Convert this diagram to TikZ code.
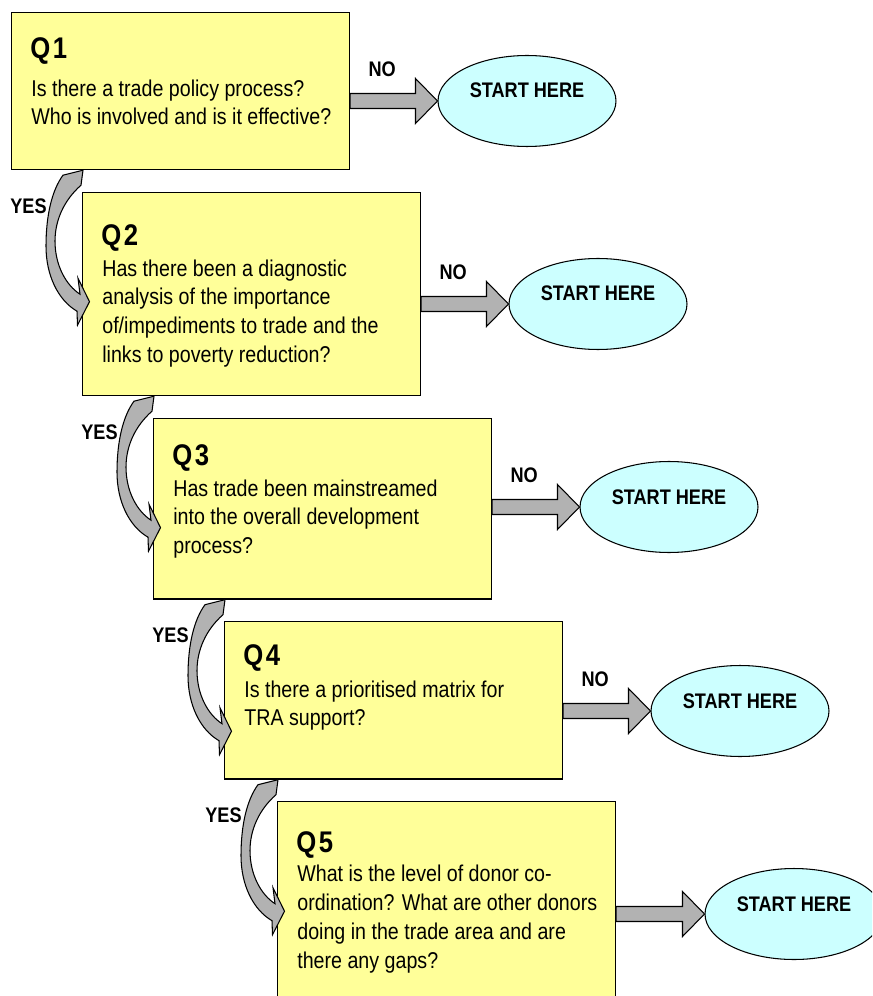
\documentclass[tikz,border=0pt]{standalone}
\usepackage{fontspec}
\setmainfont{Liberation Sans}[FakeStretch=0.86]
\usetikzlibrary{%
	calc,%
	shapes.geometric
}
\definecolor{qyellow}{RGB}{255,255,153}
\definecolor{scyan}{RGB}{204,255,255}
\definecolor{agray}{RGB}{178,178,178}
\tikzset{
	qbox/.style={draw, fill=qyellow, line width=0.7pt, anchor=north west, minimum width=6.76cm, inner sep=0pt},
	qhead/.style={anchor=base west, inner sep=0pt, font=\fontsize{17}{20}\selectfont\bfseries},
	qtext/.style={anchor=north west, inner sep=0pt, align=left, font=\fontsize{13}{16.34}\selectfont},
	startnode/.style={ellipse, draw, fill=scyan, line width=0.6pt, minimum width=3.56cm, minimum height=1.82cm, inner sep=0pt, text height=0.3cm, text depth=0.42cm, font=\fontsize{12}{14}\selectfont\bfseries},
	answer/.style={inner sep=0pt, font=\fontsize{12}{14}\selectfont\bfseries},
	noarrow/.style={draw, fill=agray, line width=0.6pt, line join=miter},
	yesarrow/.style={draw, fill=agray, line width=0.6pt}
}
% curved YES arrow from the bottom of #1 into the left side of #2
\newcommand{\yesbend}[2]{%
	\begin{scope}[shift={(#2.west |- #1.south)}]
		\draw[yesarrow] (-19,5) -- (1,0) -- (-1,15)
			.. controls (-18,30) and (-27,50) .. (-27,71)
			.. controls (-27,95) and (-16,115) .. (-2,124)
			-- (-4,108) -- (7.5,131.5) -- (-4.5,155) -- (-5,141)
			.. controls (-24,130) and (-36,105) .. (-36,76)
			.. controls (-36,45) and (-30,20) .. (-19,5) -- cycle;
	\end{scope}}
% straight NO arrow from #1 to #2
\newcommand{\nobar}[2]{%
	\draw[noarrow] ($(#1.east |- #2.west)+(0,-7.5)$) -- ($(#2.west)+(-22,-7.5)$) -- ++(0,-15)
		-- (#2.west) -- ++(-22,22.5) -- ++(0,-15) -- ($(#1.east |- #2.west)+(0,7.5)$) -- cycle;}

\begin{document}
\begin{tikzpicture}[x=0.02cm, y=-0.02cm]
	\clip (0,0) rectangle (872,996);
	% question boxes
	\node[qbox, minimum height=3.14cm] (q1) at (11,12) {};
	\node[qbox, minimum height=4.06cm] (q2) at (82,192) {};
	\node[qbox, minimum height=3.61cm] (q3) at (153,418) {};
	\node[qbox, minimum height=3.15cm] (q4) at (224,621) {};
	\node[qbox, minimum height=4.2cm] (q5) at (277,801) {};

	\node[qhead] (h1) at (30,59) {Q\hspace{1.5pt}1};
	\node[qhead] (h2) at (101,246) {Q\hspace{1.5pt}2};
	\node[qhead] (h3) at (172,465) {Q\hspace{1.5pt}3};
	\node[qhead] (h4) at (243,665) {Q\hspace{1.5pt}4};
	\node[qhead] (h5) at (296,852) {Q\hspace{1.5pt}5};

	\node[qtext] (b1) at (31,75.8) {\strut Is there a trade policy process?\\Who is involved and is it effective?};
	\node[qtext] (b2) at (102,255.8) {\strut Has there been a diagnostic\\analysis of the importance\\of/impediments to trade and the\\links to poverty reduction?};
	\node[qtext] (b3) at (173,475.8) {\strut Has trade been mainstreamed\\into the overall development\\process?};
	\node[qtext] (b4) at (244,676.8) {\strut Is there a prioritised matrix for\\TRA support?};
	\node[qtext] (b5) at (297,861.5) {\strut What is the level of donor co-\\ordination? What are other donors\\doing in the trade area and are\\there any gaps?};

	% start here
	\node[startnode] (s1) at (527,101) {START HERE};
	\node[startnode] (s2) at (598,304) {START HERE};
	\node[startnode] (s3) at (669,507) {START HERE};
	\node[startnode] (s4) at (740,711) {START HERE};
	\node[startnode] (s5) at (794,914) {START HERE};

	% NO
	\nobar{q1}{s1}
	\nobar{q2}{s2}
	\nobar{q3}{s3}
	\nobar{q4}{s4}
	\nobar{q5}{s5}
	\node[answer, anchor=base west] (n1) at ($(q1.east |- s1.west)+(18,-24.5)$) {NO};
	\node[answer, anchor=base west] (n2) at ($(q2.east |- s2.west)+(18,-24.5)$) {NO};
	\node[answer, anchor=base west] (n3) at ($(q3.east |- s3.west)+(18,-24.5)$) {NO};
	\node[answer, anchor=base west] (n4) at ($(q4.east |- s4.west)+(18,-24.5)$) {NO};

	% YES
	\yesbend{q1}{q2}
	\yesbend{q2}{q3}
	\yesbend{q3}{q4}
	\yesbend{q4}{q5}
	\node[answer, anchor=base east] (y1) at ($(q2.west |- q1.south)+(-35,43)$) {YES};
	\node[answer, anchor=base east] (y2) at ($(q3.west |- q2.south)+(-35,43)$) {YES};
	\node[answer, anchor=base east] (y3) at ($(q4.west |- q3.south)+(-35,43)$) {YES};
	\node[answer, anchor=base east] (y4) at ($(q5.west |- q4.south)+(-35,43)$) {YES};
\end{tikzpicture}
\end{document}
